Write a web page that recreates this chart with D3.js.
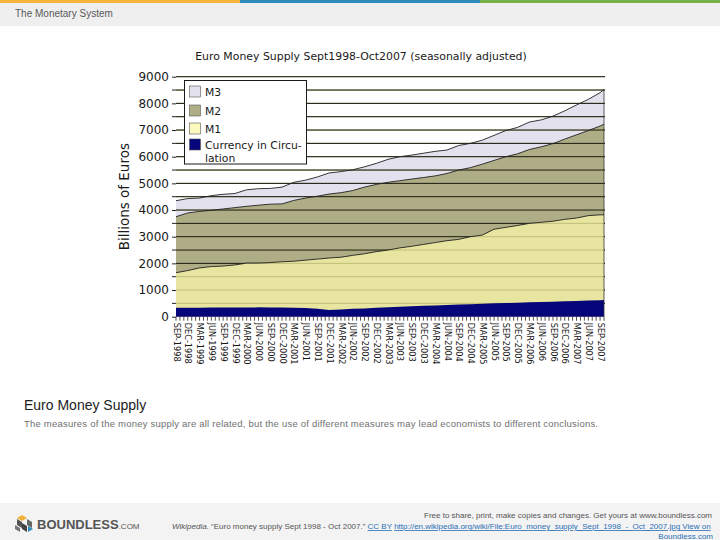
<!DOCTYPE html>
<html>
<head>
<meta charset="utf-8">
<script src="https://cdn.jsdelivr.net/npm/d3@7"></script>
<style>
  html, body { margin: 0; padding: 0; background: #ffffff; }
  svg { display: block; }
</style>
</head>
<body>
<svg id="page" width="720" height="540"></svg>
<script>
// ---------------- DATA ----------------
const chartTitle = "Euro Money Supply Sept1998-Oct2007 (seasonally adjusted)";
const yAxisTitle = "Billions of Euros";
const periods = [
  "SEP-1998","DEC-1998","MAR-1999","JUN-1999","SEP-1999","DEC-1999",
  "MAR-2000","JUN-2000","SEP-2000","DEC-2000","MAR-2001","JUN-2001",
  "SEP-2001","DEC-2001","MAR-2002","JUN-2002","SEP-2002","DEC-2002",
  "MAR-2003","JUN-2003","SEP-2003","DEC-2003","MAR-2004","JUN-2004",
  "SEP-2004","DEC-2004","MAR-2005","JUN-2005","SEP-2005","DEC-2005",
  "MAR-2006","JUN-2006","SEP-2006","DEC-2006","MAR-2007","JUN-2007",
  "SEP-2007","OCT-2007"
];
const tickLabels = periods.slice(0, 37);
const m3 = [4350,4430,4450,4540,4590,4620,4760,4800,4810,4860,5040,5120,
            5240,5390,5440,5510,5620,5750,5900,6000,6060,6130,6200,6250,
            6420,6500,6620,6800,6980,7100,7300,7380,7520,7720,7940,8150,
            8400,8520];
const m2 = [3750,3890,3950,3990,4040,4090,4140,4180,4220,4230,4360,4450,
            4520,4600,4650,4730,4860,4960,5040,5100,5160,5220,5280,5370,
            5500,5590,5720,5860,6000,6110,6270,6370,6490,6660,6820,6980,
            7150,7220];
const m1 = [1650,1730,1830,1880,1900,1940,2010,2010,2030,2060,2080,2120,
            2160,2200,2230,2300,2360,2440,2500,2580,2640,2710,2780,2850,
            2900,3000,3060,3280,3350,3420,3500,3540,3580,3650,3700,3790,
            3820,3820];
const currency = [335,338,340,342,345,345,348,350,345,345,340,330,
                  300,250,270,300,310,340,350,370,390,410,420,440,
                  455,470,485,500,510,520,540,555,565,580,590,605,
                  620,625];
const yTicks = [0,1000,2000,3000,4000,5000,6000,7000,8000,9000];
const legendLabels = ["M3","M2","M1",["Currency in Circu-","lation"]];

// ---------------- HELPERS ----------------
const monthNames = ["JAN","FEB","MAR","APR","MAY","JUN","JUL","AUG","SEP","OCT","NOV","DEC"];
function monthOffset(label) {
  const [m, y] = label.split("-");
  return (+y - 1998) * 12 + monthNames.indexOf(m) - 8;
}
const rows = periods.map((p, i) => ({
  t: monthOffset(p), m3: m3[i], m2: m2[i], m1: m1[i], cur: currency[i]
}));

const svg = d3.select("#page");
const pageFont = "'Liberation Sans', Arial, sans-serif";
const chartFont = "'DejaVu Sans', sans-serif";

// ---------------- PAGE FRAME ----------------
svg.append("rect").attr("x",0).attr("y",0).attr("width",720).attr("height",540).attr("fill","#ffffff");
svg.append("rect").attr("x",0).attr("y",3).attr("width",720).attr("height",23).attr("fill","#efefef");
[["#f6b43c",0,240],["#2e8bbd",240,480],["#78b14a",480,720]].forEach(([c,a,b]) => {
  svg.append("rect").attr("x",a).attr("y",0).attr("width",b-a).attr("height",3).attr("fill",c);
});
svg.append("text").attr("x",15).attr("y",17).attr("font-family",pageFont).attr("font-size",10)
  .attr("fill","#5a5a5a").text("The Monetary System");

// ---------------- CHART ----------------
const x = d3.scaleLinear().domain([0, 109]).range([176, 604]);
const y = d3.scaleLinear().domain([0, 9000]).range([316.7, 76.7]);
const g = svg.append("g");

const area = key => d3.area().x(d => x(d.t)).y0(y(0)).y1(d => y(d[key]));
const line = key => d3.line().x(d => x(d.t)).y(d => y(d[key]));

g.append("path").datum(rows).attr("d", area("m3")).attr("fill", "#e3e1ee");
g.append("path").datum(rows).attr("d", area("m2")).attr("fill", "#afad86");
g.append("path").datum(rows).attr("d", area("m1")).attr("fill", "#e7e59f");

const gridVals = d3.range(500, 9001, 500);
// light grid lines inside M1 region
g.append("g").selectAll("line").data(gridVals).join("line")
  .attr("x1", x(0)).attr("x2", x(109) + 1)
  .attr("y1", d => y(d)).attr("y2", d => y(d))
  .attr("stroke", "#c0be7a").attr("stroke-width", 1);

g.append("path").datum(rows).attr("d", area("cur")).attr("fill", "#06067a");

// dark grid lines above M1
const defs = svg.append("defs");
const clipD = d3.area().x(d => x(d.t)).y0(y(9500)).y1(d => y(d.m1))(rows)
  + "M" + x(109) + "," + y(9500) + "H" + (x(109) + 3) + "V" + y(0) + "H" + x(109) + "Z";
defs.append("clipPath").attr("id", "aboveM1").append("path").attr("d", clipD);
g.append("g").attr("clip-path", "url(#aboveM1)").selectAll("line").data(gridVals).join("line")
  .attr("x1", x(0)).attr("x2", x(109) + 1)
  .attr("y1", d => y(d)).attr("y2", d => y(d))
  .attr("stroke", "#141410").attr("stroke-width", 1);

// series boundary lines
["m3","m2","m1"].forEach(k => {
  g.append("path").datum(rows).attr("d", line(k))
    .attr("fill", "none").attr("stroke", "#202020").attr("stroke-width", 0.9);
});
// right edge
g.append("line").attr("x1", x(109)).attr("x2", x(109))
  .attr("y1", y(rows[rows.length-1].m3)).attr("y2", y(0))
  .attr("stroke", "#333").attr("stroke-width", 0.8);

// y axis
const yAxis = d3.axisLeft(y).tickValues(yTicks).tickSize(4).tickPadding(3).tickFormat(d3.format("d"));
const ya = g.append("g").attr("transform", `translate(${x(0)},0)`).call(yAxis);
ya.select(".domain").remove();
ya.selectAll("text").attr("font-family", chartFont).attr("font-size", 12).attr("fill", "#1a1a1a");
ya.selectAll("line").attr("stroke", "#222");
g.append("g").selectAll("line").data(d3.range(500, 9000, 1000)).join("line")
  .attr("x1", x(0) - 4).attr("x2", x(0)).attr("y1", d => y(d)).attr("y2", d => y(d))
  .attr("stroke", "#222");

g.append("text").attr("transform", `translate(129,${(y(0)+y(9000))/2}) rotate(-90)`)
  .attr("text-anchor", "middle").attr("font-family", chartFont).attr("font-size", 13.5)
  .attr("fill", "#1a1a1a").text(yAxisTitle);

// x axis minor ticks (monthly)
g.append("g").selectAll("line").data(d3.range(0, 110)).join("line")
  .attr("x1", d => x(d)).attr("x2", d => x(d)).attr("y1", y(0)).attr("y2", y(0) + 4)
  .attr("stroke", "#222").attr("stroke-width", 0.8);

const xAxis = d3.axisBottom(x).tickValues(tickLabels.map(monthOffset))
  .tickFormat((d, i) => tickLabels[i]).tickSize(0);
const xa = g.append("g").attr("transform", `translate(0,${y(0)})`).call(xAxis);
xa.select(".domain").remove();
xa.selectAll("text")
  .attr("font-family", chartFont).attr("font-size", 8.2).attr("fill", "#1a1a1a")
  .attr("text-anchor", "start").attr("dy", "0.35em")
  .attr("transform", "translate(0,6) rotate(90)").attr("x", 0).attr("y", 0);

// title
g.append("text").attr("x", 361).attr("y", 60).attr("text-anchor", "middle")
  .attr("font-family", chartFont).attr("font-size", 10.9).attr("fill", "#1a1a1a").text(chartTitle);

// legend
const lg = g.append("g");
lg.append("rect").attr("x", 184.5).attr("y", 80.5).attr("width", 122).attr("height", 83.5)
  .attr("fill", "#ffffff").attr("stroke", "#1a1a1a").attr("stroke-width", 1);
const legendColors = ["#e3e1ee","#afad86","#fbf9bd","#06067a"];
const legendY = [92, 111, 129, 145];
legendLabels.forEach((lab, i) => {
  lg.append("rect").attr("x", 189.5).attr("y", legendY[i] - 6).attr("width", 11).attr("height", 11)
    .attr("fill", legendColors[i]).attr("stroke", "#555").attr("stroke-width", 0.6);
  const t = lg.append("text").attr("x", 205).attr("y", legendY[i] + 4)
    .attr("font-family", chartFont).attr("font-size", 10.8).attr("fill", "#1a1a1a");
  if (Array.isArray(lab)) {
    t.append("tspan").attr("x", 205).text(lab[0]);
    t.append("tspan").attr("x", 205).attr("dy", 13).text(lab[1]);
  } else t.text(lab);
});

// ---------------- CAPTION ----------------
svg.append("text").attr("x", 24).attr("y", 410).attr("font-family", pageFont).attr("font-size", 14)
  .attr("fill", "#222").text("Euro Money Supply");
svg.append("text").attr("x", 24).attr("y", 427).attr("font-family", pageFont).attr("font-size", 9.5)
  .attr("fill", "#707070").attr("textLength", 574).attr("lengthAdjust", "spacing")
  .text("The measures of the money supply are all related, but the use of different measures may lead economists to different conclusions.");

// ---------------- FOOTER ----------------
svg.append("rect").attr("x", 0).attr("y", 503).attr("width", 720).attr("height", 37).attr("fill", "#f3f3f3");
const logo = svg.append("g").attr("transform", "translate(15,515)");
logo.append("polygon").attr("points", "7,0 12,3 7,6 2,3").attr("fill", "#f2b13b");
logo.append("polygon").attr("points", "2,4 7,7 7,13 2,10").attr("fill", "#555");
logo.append("polygon").attr("points", "12,4 17,7 17,13 12,10").attr("fill", "#666");
logo.append("polygon").attr("points", "7,8 12,11 12,17 7,14").attr("fill", "#444");
logo.append("polygon").attr("points", "13,11 18,14 13,17").attr("fill", "#2e8bbd");
logo.append("polygon").attr("points", "0,10 5,13 5,17 0,14").attr("fill", "#777");
svg.append("text").attr("x", 37).attr("y", 529).attr("font-family", pageFont).attr("font-weight", "bold")
  .attr("font-size", 13).attr("fill", "#555")
  .call(t => { t.append("tspan").text("BOUNDLESS"); t.append("tspan").attr("font-size", 8).attr("font-weight", "normal").text(".COM"); });

svg.append("text").attr("x", 712).attr("y", 518).attr("text-anchor", "end").attr("font-family", pageFont)
  .attr("font-size", 8).attr("fill", "#555").attr("textLength", 288).attr("lengthAdjust", "spacing")
  .text("Free to share, print, make copies and changes. Get yours at www.boundless.com");
const l2 = svg.append("text").attr("x", 172).attr("y", 529).attr("font-family", pageFont)
  .attr("font-size", 8).attr("fill", "#555");
l2.append("tspan").attr("font-style", "italic").text("Wikipedia");
l2.append("tspan").text(". \u201cEuro money supply Sept 1998 - Oct 2007.\u201d ");
l2.append("tspan").attr("fill", "#2a6fb3").attr("text-decoration", "underline").text("CC BY");
l2.append("tspan").text(" ");
l2.append("tspan").attr("fill", "#2a6fb3").attr("text-decoration", "underline")
  .text("http://en.wikipedia.org/wiki/File:Euro_money_supply_Sept_1998_-_Oct_2007.jpg View on");
svg.append("text").attr("x", 713).attr("y", 539).attr("text-anchor", "end").attr("font-family", pageFont)
  .attr("font-size", 8).attr("fill", "#2a6fb3").attr("text-decoration", "underline").text("Boundless.com");
</script>
</body>
</html>
